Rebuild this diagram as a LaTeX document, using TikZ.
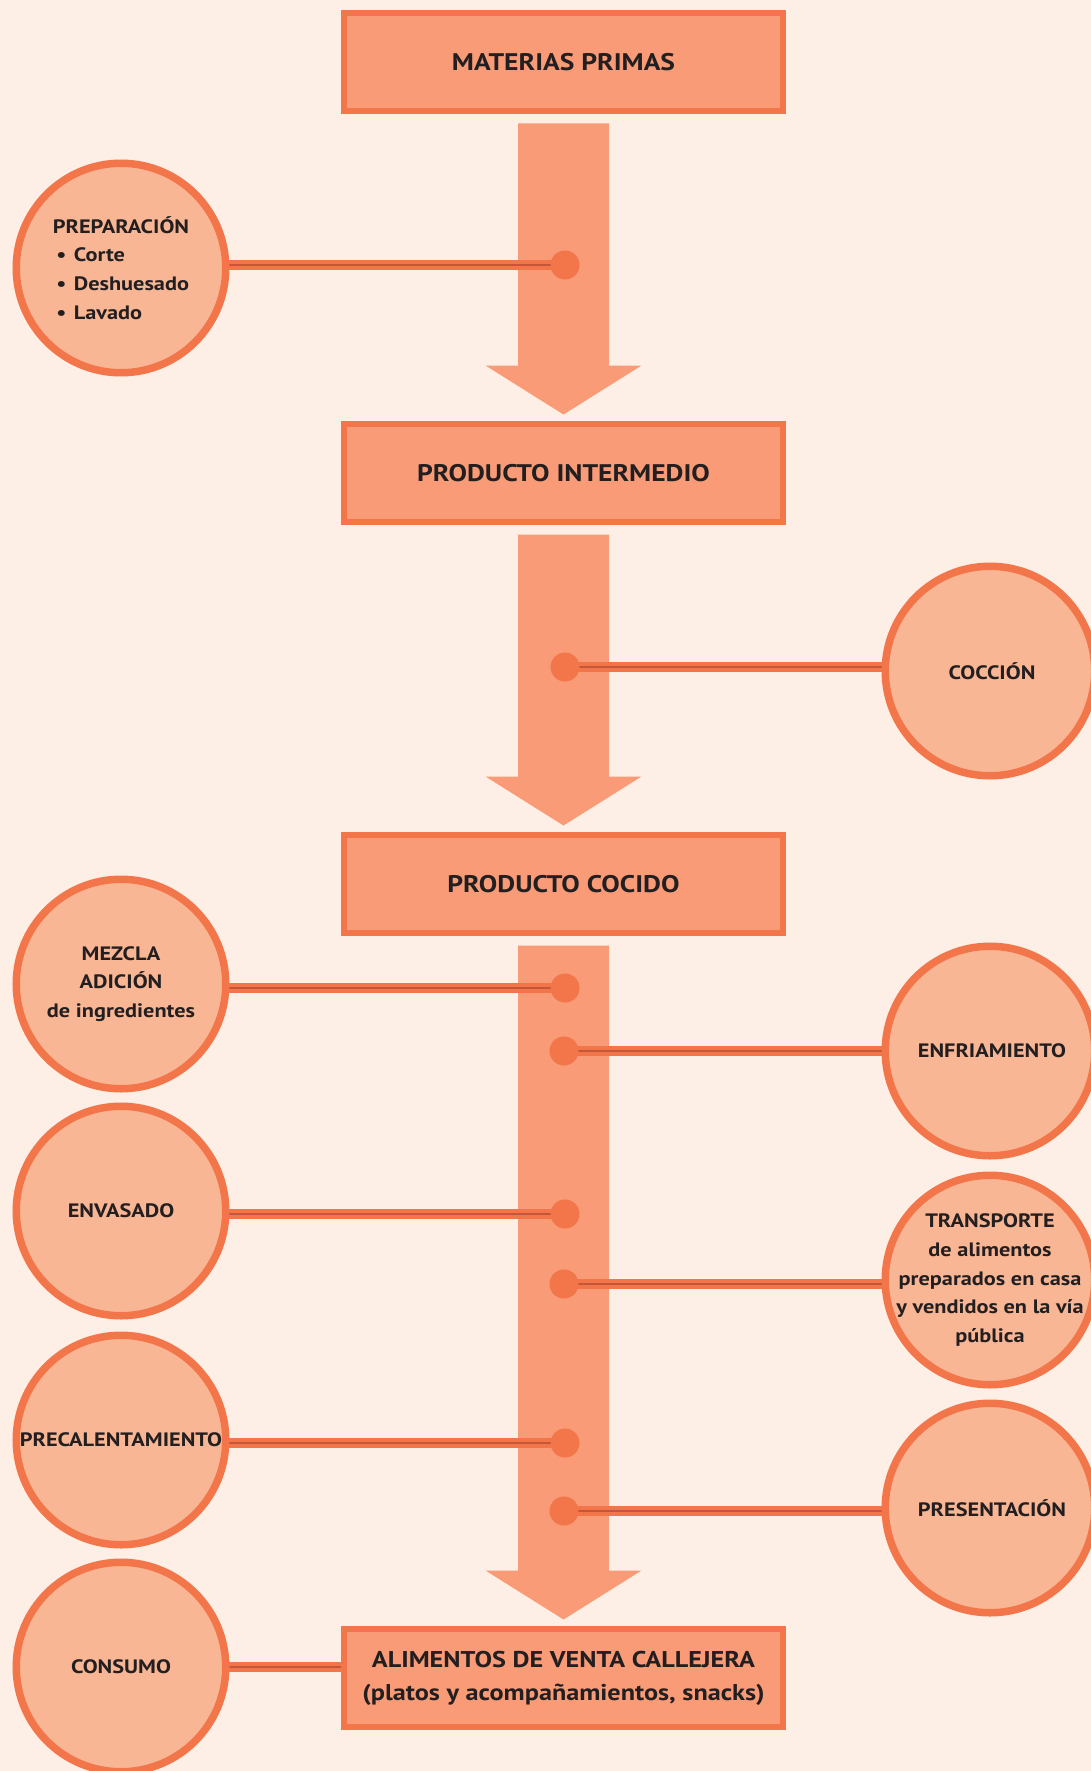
\documentclass[tikz,border=0pt]{standalone}
\usepackage{fontspec}
\setmainfont{PT Sans}[FakeStretch=1.15]
\usetikzlibrary{calc}
\definecolor{bg}{HTML}{FDEFE6}
\definecolor{boxfill}{HTML}{F89B76}
\definecolor{bord}{HTML}{F3754A}
\definecolor{circfill}{HTML}{F8B694}
\definecolor{ink}{HTML}{231F20}
\definecolor{darkline}{HTML}{C4563A}
\pgfdeclarelayer{bglayer}
\pgfdeclarelayer{arrowlayer}
\pgfdeclarelayer{linelayer}
\pgfsetlayers{bglayer,arrowlayer,linelayer,main}
\newcommand\flowarrow[2]{%
  \fill[boxfill] let \p1=($(#1.south)+(0,12.5)$), \p2=($(#2.north)+(0,-9.5)$) in
  (\x1-45.5pt,\y1) -- (\x1+45.5pt,\y1) -- (\x1+45.5pt,\y2+49pt) -- (\x1+78pt,\y2+49pt)
  -- (\x1,\y2) -- (\x1-78pt,\y2+49pt) -- (\x1-45.5pt,\y2+49pt) -- cycle;}
\begin{document}
\begin{tikzpicture}[x=1pt,y=-1pt,
  box/.style={draw=bord, fill=boxfill, line width=6pt, minimum width=439pt,
    minimum height=98pt, inner sep=0pt, outer sep=0pt, text=ink, align=center,
    font=\bfseries\fontsize{24}{33}\selectfont},
  stage/.style={circle, draw=bord, fill=circfill, line width=7.5pt, minimum size=209.5pt,
    inner sep=-20pt, outer sep=0pt, text=ink, align=center,
    font=\bfseries\fontsize{19.4}{28.7}\selectfont},
  dot/.style={circle, fill=bord, minimum size=29pt, inner sep=0pt, outer sep=0pt},
  conn/.style={draw=bord, line width=10.5pt, postaction={draw=darkline, line width=1.6pt}}
]
\useasboundingbox (0,0) rectangle (1091,1771);
\begin{pgfonlayer}{bglayer}
  \fill[bg] (0,0) rectangle (1091,1771);
\end{pgfonlayer}

% boxes
\node[box] (mp)  at (563.5,62)   {MATERIAS PRIMAS};
\node[box] (pi)  at (563.5,473)  {PRODUCTO INTERMEDIO};
\node[box] (pc)  at (563.5,884)  {PRODUCTO COCIDO};
\node[box, font=\bfseries\fontsize{22.8}{33}\selectfont] (al) at (563.5,1678)
  {ALIMENTOS DE VENTA CALLEJERA\\(platos y acompañamientos, snacks)};

% big arrows
\begin{pgfonlayer}{arrowlayer}
  \flowarrow{mp}{pi}
  \flowarrow{pi}{pc}
  \flowarrow{pc}{al}
\end{pgfonlayer}

% circles
\begin{scope}
\clip (0,0) rectangle (1091,1771);
\node[stage, align=left] (prep) at (121,268) {PREPARACIÓN\\
  \makebox[21pt][l]{\hspace{3.5pt}\textbullet}Corte\\
  \makebox[21pt][l]{\hspace{3.5pt}\textbullet}Deshuesado\\
  \makebox[21pt][l]{\hspace{3.5pt}\textbullet}Lavado};
\node[stage] (cocc) at (990,671)  {\hspace*{4pt}COCCIÓN};
\node[stage] (mez)  at (121,984)  {MEZCLA\\ADICIÓN\\de ingredientes};
\node[stage] (enf)  at (990,1051) {\hspace*{4pt}ENFRIAMIENTO};
\node[stage] (env)  at (121,1211) {ENVASADO};
\node[stage] (tra)  at (990,1280) {TRANSPORTE\\de alimentos\\preparados en casa\\y vendidos en la vía\\pública};
\node[stage] (pre)  at (121,1440) {PRECALENTAMIENTO};
\node[stage] (pres) at (990,1508) {\hspace*{4pt}PRESENTACIÓN};
\node[stage] (cons) at (121,1667) {CONSUMO};
\end{scope}

% dots
\node[dot] (d1) at (565,265)  {};
\node[dot] (d2) at (565,667)  {};
\node[dot] (d3) at (565,988)  {};
\node[dot] (d4) at (564,1051) {};
\node[dot] (d5) at (565,1214) {};
\node[dot] (d6) at (564,1284) {};
\node[dot] (d7) at (565,1443) {};
\node[dot] (d8) at (564,1511) {};

% connectors
\begin{pgfonlayer}{linelayer}
  \draw[conn] (d1.center) -- (d1 -| prep.center);
  \draw[conn] (d2.center) -- (d2 -| cocc.center);
  \draw[conn] (d3.center) -- (d3 -| mez.center);
  \draw[conn] (d4.center) -- (d4 -| enf.center);
  \draw[conn] (d5.center) -- (d5 -| env.center);
  \draw[conn] (d6.center) -- (d6 -| tra.center);
  \draw[conn] (d7.center) -- (d7 -| pre.center);
  \draw[conn] (d8.center) -- (d8 -| pres.center);
  \draw[conn] (cons.center) -- (cons.center -| al.west);
\end{pgfonlayer}
\end{tikzpicture}
\end{document}
